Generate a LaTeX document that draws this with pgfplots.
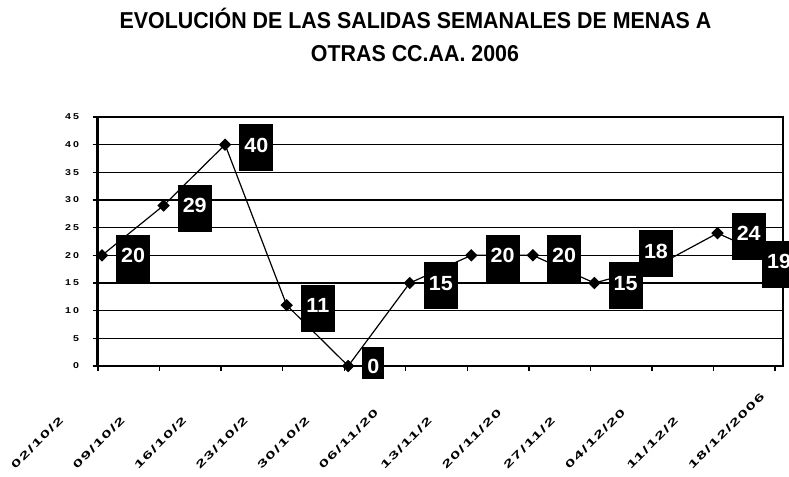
\documentclass[border=0pt]{standalone}
\usepackage{fontspec}
\setmainfont{Liberation Sans}
\newfontfamily\titlefont[FakeStretch=0.93]{Liberation Sans}
\newfontfamily\lblfont[FakeStretch=1.05]{Liberation Sans}
\newfontfamily\ytickfont[FakeStretch=1.25,LetterSpace=25]{Liberation Sans}
\newfontfamily\xtickfont[FakeStretch=1.7,LetterSpace=14]{Liberation Sans}
\usepackage{pgfplots}
\pgfplotsset{compat=1.18}
\tikzset{
  lbl/.style={fill=black, text=white, font=\lblfont\bfseries\fontsize{20.5bp}{24bp}\selectfont,
    inner xsep=0pt, inner ysep=0pt, minimum width=34bp, minimum height=47bp,
    text height=14.7bp, text depth=6bp},
}
\begin{document}
\begin{tikzpicture}[x=1bp,y=1bp]
\node[anchor=base, font=\titlefont\bfseries\fontsize{23bp}{27bp}\selectfont] at (415.5,448) {EVOLUCIÓN DE LAS SALIDAS SEMANALES DE MENAS A};
\node[anchor=base, font=\titlefont\bfseries\fontsize{23bp}{27bp}\selectfont] at (415,415) {OTRAS CC.AA. 2006};
\begin{axis}[
  at={(97.5bp,111bp)}, anchor=south west, scale only axis,
  width=685.5bp, height=249bp,
  xmin=-0.073, xmax=11.064, ymin=0, ymax=45,
  ytick={0,5,...,45},
  xtick={-0.065,0.935,1.935,2.935,3.935,4.935,5.935,6.935,7.935,8.935,9.935,10.935},
  xticklabels={02/10/2,09/10/2,16/10/2,23/10/2,30/10/2,06/11/20,13/11/2,20/11/20,27/11/2,04/12/20,11/12/2,18/12/2006},
  ymajorgrids, grid style={black, line width=1.3bp},
  axis line style={black, line width=1.3bp},
  tick style={black, line width=1.3bp},
  tick align=outside, major tick length=5bp,
  xtick pos=bottom, ytick pos=left,
  clip=false,
  /pgf/number format/assume math mode=true,
  yticklabel style={font=\ytickfont\bfseries\fontsize{8.5bp}{10bp}\selectfont, xshift=-10bp},
  xticklabel style={font=\xtickfont\bfseries\fontsize{10.5bp}{12bp}\selectfont,
    anchor=base west, xshift=-85bp, yshift=-101bp, rotate=45},
]
\draw[line width=2.2bp] (rel axis cs:0,1) -- (rel axis cs:0,0) -- (rel axis cs:1,0);
\addplot[black, line width=1.2bp, mark=square*, mark size=3.8bp, mark options={rotate=45, solid, fill=black}]
table[x=x, y=y] {
x y
0 20
1 29
2 40
3 11
4 0
5 15
6 20
7 20
8 15
9 18
10 24
11 19
};
% labels to the right of the points
\addplot[draw=none, mark=none, point meta=explicit symbolic, nodes near coords,
  every node near coord/.append style={lbl, anchor=west, xshift=14bp, yshift=-3bp}]
table[x=x, y=y, meta=lab] {
x y lab
0 20 20
1 29 29
2 40 40
3 11 11
5 15 15
6 20 20
7 20 20
8 15 15
10 24 24
};
% label above the point
\addplot[draw=none, mark=none, point meta=explicit symbolic, nodes near coords,
  every node near coord/.append style={lbl, anchor=center, yshift=12.5bp}]
table[x=x, y=y, meta=lab] {
x y lab
9 18 18
};
% label centred on the last point
\addplot[draw=none, mark=none, point meta=explicit symbolic, nodes near coords,
  every node near coord/.append style={lbl, anchor=center, yshift=-3.5bp}]
table[x=x, y=y, meta=lab] {
x y lab
11 19 19
};
% label of the zero point
\addplot[draw=none, mark=none, point meta=explicit symbolic, nodes near coords,
  every node near coord/.append style={lbl, minimum width=22bp, minimum height=32bp,
    text height=20.7bp, text depth=0bp, anchor=west, xshift=14bp, yshift=3bp}]
table[x=x, y=y, meta=lab] {
x y lab
4 0 0
};
\end{axis}
\pgfresetboundingbox
\path[use as bounding box] (0,0) rectangle (789,477);
\end{tikzpicture}
\end{document}
